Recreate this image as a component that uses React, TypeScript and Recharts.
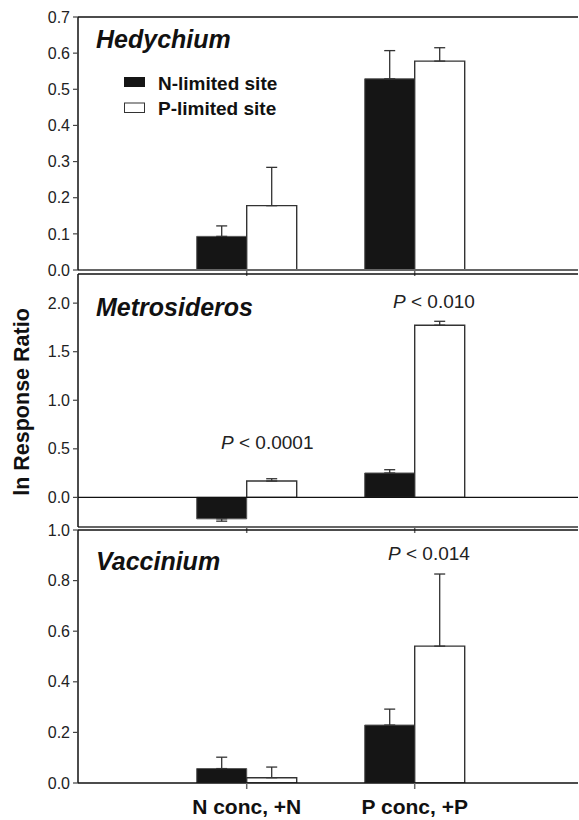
import React from "react";
import { BarChart, Bar, XAxis, YAxis, ErrorBar, ReferenceLine, Legend } from "recharts";

// categories on the shared x axis
const categories = ["N conc, +N", "P conc, +P"];
const seriesNames = ["N-limited site", "P-limited site"];

// Hedychium
const hedyN = [0.093, 0.529];
const hedyNErr = [0.029, 0.078];
const hedyP = [0.178, 0.578];
const hedyPErr = [0.106, 0.037];

// Metrosideros
const metroN = [-0.221, 0.251];
const metroNErr = [0.024, 0.034];
const metroP = [0.168, 1.773];
const metroPErr = [0.024, 0.04];

// Vaccinium
const vaccN = [0.057, 0.229];
const vaccNErr = [0.045, 0.063];
const vaccP = [0.021, 0.541];
const vaccPErr = [0.042, 0.285];

const hedyTicks = [0, 0.1, 0.2, 0.3, 0.4, 0.5, 0.6, 0.7];
const metroTicks = [0, 0.5, 1, 1.5, 2];
const vaccTicks = [0, 0.2, 0.4, 0.6, 0.8, 1.0];

const FONT = "'Liberation Sans', Arial, Helvetica, sans-serif";

// error bars only go away from zero
const errPair = (v: number, e: number) => (v < 0 ? [e, 0] : [0, e]);

const makeRows = (n: number[], ne: number[], p: number[], pe: number[]) =>
  categories.map((cat, i) => ({
    cat,
    n: n[i],
    p: p[i],
    nErr: errPair(n[i], ne[i]),
    pErr: errPair(p[i], pe[i]),
  }));

const hedyRows = makeRows(hedyN, hedyNErr, hedyP, hedyPErr);
const metroRows = makeRows(metroN, metroNErr, metroP, metroPErr);
const vaccRows = makeRows(vaccN, vaccNErr, vaccP, vaccPErr);

const renderLegend = () => (
  <svg width={200} height={50} style={{ overflow: "visible" }}>
    <rect x={4} y={7} width={21} height={10} fill="#151515" />
    <text x={38} y={20} fontSize={19} fontWeight={700} fill="#111" fontFamily={FONT}>
      {seriesNames[0]}
    </text>
    <rect x={4.5} y={33} width={20} height={9.5} fill="#fff" stroke="#333" strokeWidth={1} />
    <text x={38} y={44.5} fontSize={19} fontWeight={700} fill="#111" fontFamily={FONT}>
      {seriesNames[1]}
    </text>
  </svg>
);

type PanelProps = {
  top: number;
  height: number;
  rows: any[];
  domain: [number, number];
  ticks: number[];
  last?: boolean;
  zeroLine?: boolean;
  legend?: boolean;
};

function Panel({ top, height, rows, domain, ticks, last, zeroLine, legend }: PanelProps) {
  return (
    <div style={{ position: "absolute", left: 0, top }}>
      <BarChart
        width={579}
        height={height}
        data={rows}
        margin={{ top: 17, right: 1, left: 0, bottom: 0 }}
        barGap={0}
        barSize={50}
      >
        <XAxis
          dataKey="cat"
          height={height - 270}
          padding={{ left: 84.7, right: 79.3 }}
          axisLine={{ stroke: last ? "#111" : "#666", strokeWidth: last ? 1.5 : 2 }}
          tickLine={{ stroke: "#666", strokeWidth: 1.5 }}
          tickSize={6}
          tickMargin={10}
          tickFormatter={(v) => (last ? v : "")}
          tick={{ fontSize: 21, fontWeight: 700, fill: "#111", fontFamily: FONT }}
          interval={0}
        />
        <YAxis
          width={78}
          domain={domain}
          ticks={ticks}
          allowDataOverflow
          interval={0}
          tickFormatter={(v: number) => v.toFixed(1)}
          tick={{ fontSize: 16, fill: "#222", fontFamily: FONT }}
          tickSize={5}
          tickMargin={3}
          axisLine={{ stroke: "#111", strokeWidth: 1.5 }}
          tickLine={{ stroke: "#444", strokeWidth: 1.2 }}
        />
        <ReferenceLine y={domain[1]} stroke="#111" strokeWidth={1.3} />
        {zeroLine && <ReferenceLine y={0} stroke="#111" strokeWidth={1.2} />}
        {legend && (
          <Legend
            layout="vertical"
            align="center"
            verticalAlign="middle"
            content={renderLegend}
            wrapperStyle={{ position: "absolute", left: 120, top: 70, width: 200, height: 50 }}
          />
        )}
        <Bar
          dataKey="n"
          name={seriesNames[0]}
          fill="#151515"
          stroke="#555"
          strokeWidth={1}
          isAnimationActive={false}
        >
          <ErrorBar dataKey="nErr" width={5.5} stroke="#333" strokeWidth={1.3} direction="y" />
        </Bar>
        <Bar
          dataKey="p"
          name={seriesNames[1]}
          fill="#ffffff"
          stroke="#333"
          strokeWidth={1.4}
          isAnimationActive={false}
        >
          <ErrorBar dataKey="pErr" width={5.5} stroke="#333" strokeWidth={1.3} direction="y" />
        </Bar>
      </BarChart>
    </div>
  );
}

const titles = [
  { text: "Hedychium", y: 48 },
  { text: "Metrosideros", y: 316 },
  { text: "Vaccinium", y: 570 },
];

const pLabels = [
  { value: "0.0001", x: 221, y: 449 },
  { value: "0.010", x: 393, y: 308 },
  { value: "0.014", x: 388, y: 560 },
];

export default function App() {
  return (
    <div
      style={{
        position: "absolute",
        left: 0,
        top: 0,
        width: 579,
        height: 820,
        background: "#fff",
        fontFamily: FONT,
      }}
    >
      <Panel top={0} height={280} rows={hedyRows} domain={[0, 0.7]} ticks={hedyTicks} legend />
      <Panel top={257} height={280} rows={metroRows} domain={[-0.305, 2.3]} ticks={metroTicks} zeroLine />
      <Panel top={513} height={307} rows={vaccRows} domain={[0, 1.0]} ticks={vaccTicks} last />

      <svg
        width={579}
        height={820}
        style={{ position: "absolute", left: 0, top: 0, pointerEvents: "none" }}
      >
        {titles.map((t) => (
          <text
            key={t.text}
            x={96}
            y={t.y}
            fontSize={25}
            fontWeight={700}
            fontStyle="italic"
            fill="#111"
            fontFamily={FONT}
          >
            {t.text}
          </text>
        ))}
        {pLabels.map((p) => (
          <text key={p.value} x={p.x} y={p.y} fontSize={19} fill="#222" fontFamily={FONT}>
            <tspan fontStyle="italic">P</tspan>
            {" < " + p.value}
          </text>
        ))}
        <text
          x={29}
          y={402}
          transform="rotate(-90, 29, 402)"
          textAnchor="middle"
          fontSize={21.5}
          fontWeight={700}
          fill="#111"
          fontFamily={FONT}
        >
          ln Response Ratio
        </text>
      </svg>
    </div>
  );
}
